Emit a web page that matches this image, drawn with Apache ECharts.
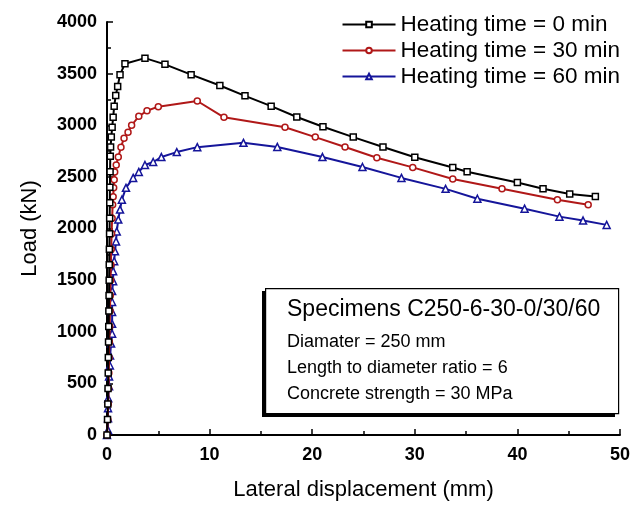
<!DOCTYPE html>
<html>
<head>
<meta charset="utf-8">
<script src="https://cdn.jsdelivr.net/npm/echarts@6/dist/echarts.min.js"></script>
<style>html,body{margin:0;padding:0;background:#fff}#c{width:633px;height:506px}</style>
</head>
<body>
<div id="c"></div>
<script>
// Series names
const seriesNames = ['Heating time = 0 min', 'Heating time = 30 min', 'Heating time = 60 min'];
// [lateral displacement (mm), load (kN)]
const heat0 = [[0,0],[0.05,150],[0.08,300],[0.1,450],[0.12,600],[0.13,750],[0.15,900],[0.17,1050],[0.18,1200],[0.2,1350],[0.21,1500],[0.22,1650],[0.23,1800],[0.25,1950],[0.26,2100],[0.27,2250],[0.28,2400],[0.3,2550],[0.32,2700],[0.35,2790],[0.42,2885],[0.5,2980],[0.6,3077],[0.7,3183],[0.85,3288],[1.04,3375],[1.27,3490],[1.75,3596],[3.7,3650],[5.65,3590],[8.2,3490],[11.0,3385],[13.45,3285],[16.0,3185],[18.5,3080],[21.05,2985],[24.0,2885],[26.9,2790],[30.0,2690],[33.7,2590],[35.1,2550],[40.0,2445],[42.5,2385],[45.1,2335],[47.6,2310]];
const heat30 = [[0,0],[0.08,150],[0.12,300],[0.15,450],[0.18,600],[0.2,750],[0.23,900],[0.26,1050],[0.29,1200],[0.32,1350],[0.35,1500],[0.38,1650],[0.41,1800],[0.45,1950],[0.5,2100],[0.55,2230],[0.6,2308],[0.65,2394],[0.7,2471],[0.75,2548],[0.9,2615],[1.1,2692],[1.36,2788],[1.66,2875],[2.05,2933],[2.4,3000],[3.1,3087],[3.9,3140],[5.0,3180],[8.8,3235],[11.4,3077],[17.35,2980],[20.3,2885],[23.2,2790],[26.3,2685],[29.8,2592],[33.7,2480],[38.5,2384],[43.9,2279],[46.9,2231]];
const heat60 = [[0,0],[0.1,48],[0.1,163],[0.1,260],[0.12,356],[0.2,471],[0.2,567],[0.28,673],[0.3,769],[0.4,885],[0.5,981],[0.5,1077],[0.5,1192],[0.5,1288],[0.5,1394],[0.6,1490],[0.6,1587],[0.7,1683],[0.78,1779],[0.88,1875],[0.95,1971],[1.1,2086],[1.27,2183],[1.45,2279],[1.85,2394],[2.55,2490],[3.1,2548],[3.7,2615],[4.5,2644],[5.3,2692],[6.8,2740],[8.8,2788],[13.3,2830],[16.6,2790],[21.0,2692],[24.9,2596],[28.7,2490],[33.0,2384],[36.1,2288],[40.7,2192],[44.1,2115],[46.4,2077],[48.7,2035]];
// Annotation text
const boxTitle = 'Specimens C250-6-30-0/30/60';
const boxLines = ['Diamater = 250 mm', 'Length to diameter ratio = 6', 'Concrete strength = 30 MPa'];

const FONT = 'Liberation Sans, Arial, sans-serif';
const colors = ['#000000', '#b01818', '#15159a'];
const symbols = ['rect', 'circle', 'triangle'];
const datasets = [heat0, heat30, heat60];

const chart = echarts.init(document.getElementById('c'));
chart.setOption({
  animation: false,
  backgroundColor: '#fff',
  grid: { left: 107, right: 13, top: 22, bottom: 69, containLabel: false },
  legend: {
    orient: 'vertical', right: 8, top: 8, itemGap: 3,
    itemWidth: 53, itemHeight: 7,
    textStyle: { fontFamily: FONT, fontSize: 22.5, color: '#000' },
    data: seriesNames
  },
  xAxis: {
    type: 'value', min: 0, max: 50, interval: 10,
    name: 'Lateral displacement (mm)', nameLocation: 'middle', nameGap: 44,
    nameTextStyle: { fontFamily: FONT, fontSize: 22, color: '#000' },
    axisLine: { show: true, lineStyle: { color: '#000', width: 2 } },
    axisTick: { show: true, inside: true, length: 6, lineStyle: { color: '#000', width: 1.5 } },
    minorTick: { show: true, splitNumber: 2, length: 4, lineStyle: { color: '#000', width: 1.5 } },
    axisLabel: { fontFamily: FONT, fontSize: 18, fontWeight: 'bold', color: '#000', margin: 11, formatter: v => String(v) },
    splitLine: { show: false }
  },
  yAxis: {
    type: 'value', min: 0, max: 4000, interval: 500,
    name: 'Load (kN)', nameLocation: 'middle', nameGap: 66, nameRotate: 90,
    nameTextStyle: { fontFamily: FONT, fontSize: 22, color: '#000' },
    axisLine: { show: true, lineStyle: { color: '#000', width: 2 } },
    axisTick: { show: true, inside: true, length: 6, lineStyle: { color: '#000', width: 1.5 } },
    minorTick: { show: true, splitNumber: 2, length: 4, lineStyle: { color: '#000', width: 1.5 } },
    axisLabel: { fontFamily: FONT, fontSize: 18, fontWeight: 'bold', color: '#000', margin: 10, formatter: v => String(v) },
    splitLine: { show: false }
  },
  series: datasets.map((d, i) => ({
    name: seriesNames[i],
    type: 'line',
    data: d,
    symbol: symbols[i],
    symbolSize: i === 2 ? 7 : 6,
    showAllSymbol: true,
    lineStyle: { color: colors[i], width: 2 },
    itemStyle: { color: '#fff', borderColor: colors[i], borderWidth: 1.5 },
    z: 3 - i
  })),
  graphic: [
    {
      type: 'rect', left: 262, top: 291, z: 99,
      shape: { width: 353, height: 126 },
      style: { fill: '#000' }
    },
    {
      type: 'rect', left: 265, top: 288, z: 100,
      shape: { width: 353, height: 125 },
      style: { fill: '#fff', stroke: '#000', lineWidth: 1.2 }
    },
    { type: 'text', left: 287, top: 298, z: 101, style: { text: boxTitle, font: '23px ' + FONT, fill: '#000' } },
    { type: 'text', left: 287, top: 333, z: 101, style: { text: boxLines[0], font: '18px ' + FONT, fill: '#000' } },
    { type: 'text', left: 287, top: 359, z: 101, style: { text: boxLines[1], font: '18px ' + FONT, fill: '#000' } },
    { type: 'text', left: 287, top: 385, z: 101, style: { text: boxLines[2], font: '18px ' + FONT, fill: '#000' } }
  ]
});
</script>
</body>
</html>
